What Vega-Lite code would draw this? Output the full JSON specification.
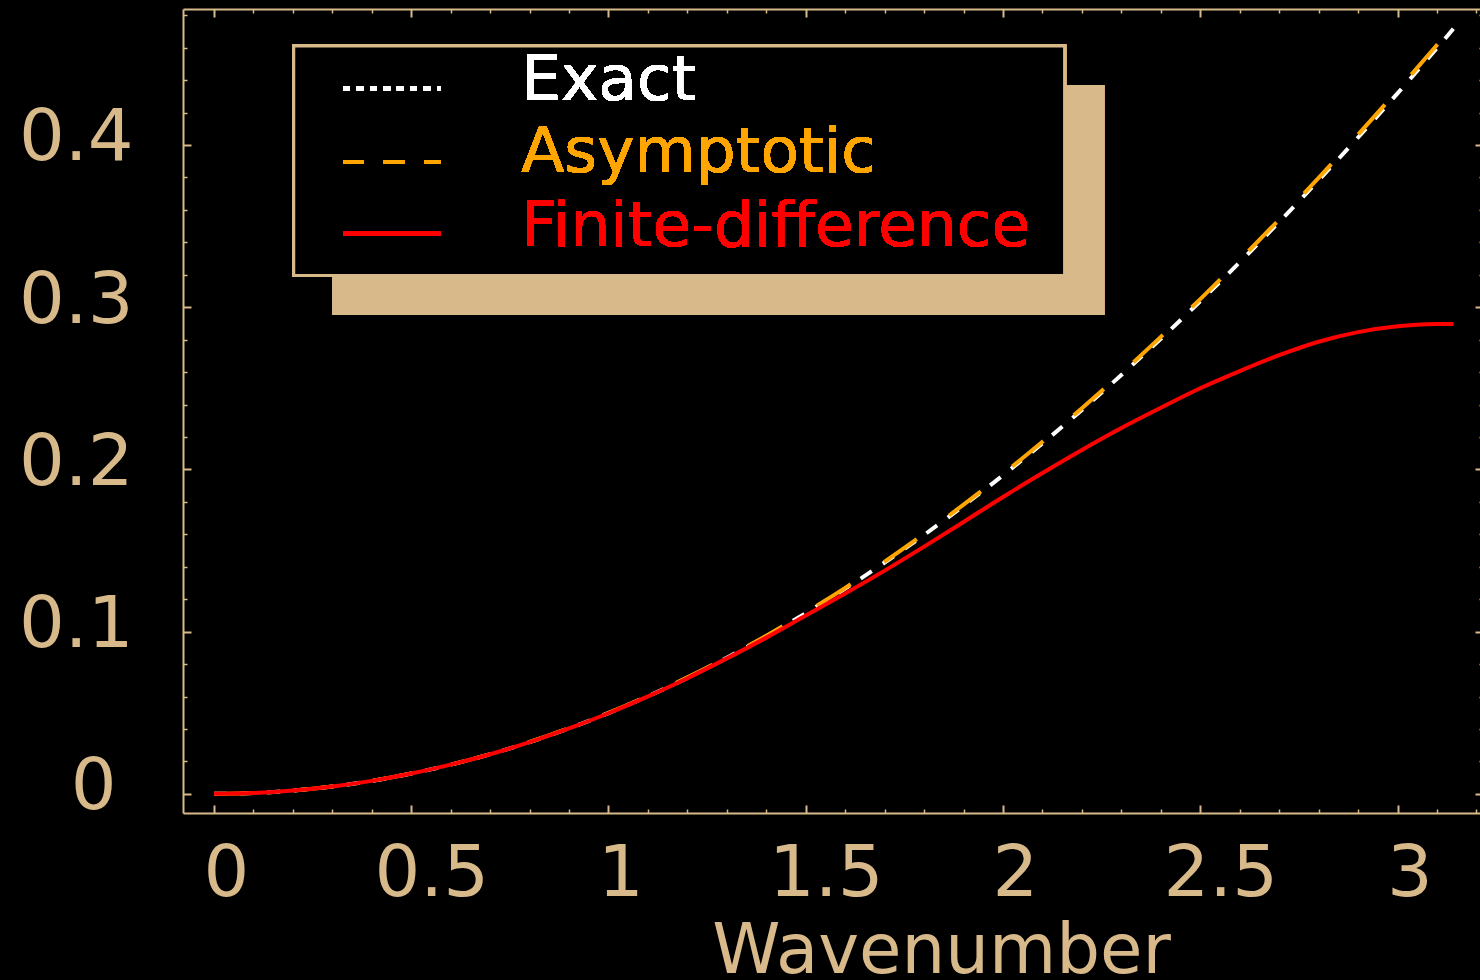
{
  "$schema": "https://vega.github.io/schema/vega-lite/v6.json",
  "autosize": {"type": "none"},
  "padding": {"left": 183, "top": 9, "right": 0, "bottom": 167},
  "width": 1297,
  "height": 804,
  "background": "#000000",
  "config": {
    "view": {"stroke": null},
    "font": "DejaVu Sans"
  },
  "datasets": {
    "dispersion": [
      {"wavenumber": 0, "frequency": 0, "scheme": "Exact"},
      {"wavenumber": 0.1, "frequency": 0.0005, "scheme": "Exact"},
      {"wavenumber": 0.2, "frequency": 0.0020, "scheme": "Exact"},
      {"wavenumber": 0.3, "frequency": 0.0045, "scheme": "Exact"},
      {"wavenumber": 0.4, "frequency": 0.0080, "scheme": "Exact"},
      {"wavenumber": 0.5, "frequency": 0.0125, "scheme": "Exact"},
      {"wavenumber": 0.6, "frequency": 0.0180, "scheme": "Exact"},
      {"wavenumber": 0.7, "frequency": 0.0244, "scheme": "Exact"},
      {"wavenumber": 0.8, "frequency": 0.0319, "scheme": "Exact"},
      {"wavenumber": 0.9, "frequency": 0.0404, "scheme": "Exact"},
      {"wavenumber": 1.0, "frequency": 0.0498, "scheme": "Exact"},
      {"wavenumber": 1.1, "frequency": 0.0602, "scheme": "Exact"},
      {"wavenumber": 1.2, "frequency": 0.0715, "scheme": "Exact"},
      {"wavenumber": 1.3, "frequency": 0.0839, "scheme": "Exact"},
      {"wavenumber": 1.4, "frequency": 0.0971, "scheme": "Exact"},
      {"wavenumber": 1.5, "frequency": 0.1114, "scheme": "Exact"},
      {"wavenumber": 1.6, "frequency": 0.1265, "scheme": "Exact"},
      {"wavenumber": 1.7, "frequency": 0.1426, "scheme": "Exact"},
      {"wavenumber": 1.8, "frequency": 0.1596, "scheme": "Exact"},
      {"wavenumber": 1.9, "frequency": 0.1776, "scheme": "Exact"},
      {"wavenumber": 2.0, "frequency": 0.1964, "scheme": "Exact"},
      {"wavenumber": 2.1, "frequency": 0.2161, "scheme": "Exact"},
      {"wavenumber": 2.2, "frequency": 0.2367, "scheme": "Exact"},
      {"wavenumber": 2.3, "frequency": 0.2582, "scheme": "Exact"},
      {"wavenumber": 2.4, "frequency": 0.2805, "scheme": "Exact"},
      {"wavenumber": 2.5, "frequency": 0.3037, "scheme": "Exact"},
      {"wavenumber": 2.6, "frequency": 0.3277, "scheme": "Exact"},
      {"wavenumber": 2.7, "frequency": 0.3525, "scheme": "Exact"},
      {"wavenumber": 2.8, "frequency": 0.3782, "scheme": "Exact"},
      {"wavenumber": 2.9, "frequency": 0.4046, "scheme": "Exact"},
      {"wavenumber": 3.0, "frequency": 0.4318, "scheme": "Exact"},
      {"wavenumber": 3.1, "frequency": 0.4597, "scheme": "Exact"},
      {"wavenumber": 3.1416, "frequency": 0.4716, "scheme": "Exact"},
      {"wavenumber": 0, "frequency": 0, "scheme": "Asymptotic"},
      {"wavenumber": 0.1, "frequency": 0.0005, "scheme": "Asymptotic"},
      {"wavenumber": 0.2, "frequency": 0.0020, "scheme": "Asymptotic"},
      {"wavenumber": 0.3, "frequency": 0.0045, "scheme": "Asymptotic"},
      {"wavenumber": 0.4, "frequency": 0.0080, "scheme": "Asymptotic"},
      {"wavenumber": 0.5, "frequency": 0.0125, "scheme": "Asymptotic"},
      {"wavenumber": 0.6, "frequency": 0.0180, "scheme": "Asymptotic"},
      {"wavenumber": 0.7, "frequency": 0.0245, "scheme": "Asymptotic"},
      {"wavenumber": 0.8, "frequency": 0.0320, "scheme": "Asymptotic"},
      {"wavenumber": 0.9, "frequency": 0.0405, "scheme": "Asymptotic"},
      {"wavenumber": 1.0, "frequency": 0.0500, "scheme": "Asymptotic"},
      {"wavenumber": 1.1, "frequency": 0.0604, "scheme": "Asymptotic"},
      {"wavenumber": 1.2, "frequency": 0.0718, "scheme": "Asymptotic"},
      {"wavenumber": 1.3, "frequency": 0.0842, "scheme": "Asymptotic"},
      {"wavenumber": 1.4, "frequency": 0.0975, "scheme": "Asymptotic"},
      {"wavenumber": 1.5, "frequency": 0.1118, "scheme": "Asymptotic"},
      {"wavenumber": 1.6, "frequency": 0.1270, "scheme": "Asymptotic"},
      {"wavenumber": 1.7, "frequency": 0.1432, "scheme": "Asymptotic"},
      {"wavenumber": 1.8, "frequency": 0.1603, "scheme": "Asymptotic"},
      {"wavenumber": 1.9, "frequency": 0.1783, "scheme": "Asymptotic"},
      {"wavenumber": 2.0, "frequency": 0.1972, "scheme": "Asymptotic"},
      {"wavenumber": 2.1, "frequency": 0.2170, "scheme": "Asymptotic"},
      {"wavenumber": 2.2, "frequency": 0.2377, "scheme": "Asymptotic"},
      {"wavenumber": 2.3, "frequency": 0.2593, "scheme": "Asymptotic"},
      {"wavenumber": 2.4, "frequency": 0.2817, "scheme": "Asymptotic"},
      {"wavenumber": 2.5, "frequency": 0.3050, "scheme": "Asymptotic"},
      {"wavenumber": 2.6, "frequency": 0.3291, "scheme": "Asymptotic"},
      {"wavenumber": 2.7, "frequency": 0.3540, "scheme": "Asymptotic"},
      {"wavenumber": 2.8, "frequency": 0.3797, "scheme": "Asymptotic"},
      {"wavenumber": 2.9, "frequency": 0.4063, "scheme": "Asymptotic"},
      {"wavenumber": 3.0, "frequency": 0.4336, "scheme": "Asymptotic"},
      {"wavenumber": 3.1, "frequency": 0.4616, "scheme": "Asymptotic"},
      {"wavenumber": 3.1416, "frequency": 0.4735, "scheme": "Asymptotic"},
      {"wavenumber": 0, "frequency": 0, "scheme": "Finite-difference"},
      {"wavenumber": 0.1, "frequency": 0.0005, "scheme": "Finite-difference"},
      {"wavenumber": 0.2, "frequency": 0.0020, "scheme": "Finite-difference"},
      {"wavenumber": 0.3, "frequency": 0.0045, "scheme": "Finite-difference"},
      {"wavenumber": 0.4, "frequency": 0.0080, "scheme": "Finite-difference"},
      {"wavenumber": 0.5, "frequency": 0.0125, "scheme": "Finite-difference"},
      {"wavenumber": 0.6, "frequency": 0.0180, "scheme": "Finite-difference"},
      {"wavenumber": 0.7, "frequency": 0.0244, "scheme": "Finite-difference"},
      {"wavenumber": 0.8, "frequency": 0.0319, "scheme": "Finite-difference"},
      {"wavenumber": 0.9, "frequency": 0.0403, "scheme": "Finite-difference"},
      {"wavenumber": 1.0, "frequency": 0.0497, "scheme": "Finite-difference"},
      {"wavenumber": 1.1, "frequency": 0.0601, "scheme": "Finite-difference"},
      {"wavenumber": 1.2, "frequency": 0.0713, "scheme": "Finite-difference"},
      {"wavenumber": 1.3, "frequency": 0.0835, "scheme": "Finite-difference"},
      {"wavenumber": 1.4, "frequency": 0.0963, "scheme": "Finite-difference"},
      {"wavenumber": 1.5, "frequency": 0.1099, "scheme": "Finite-difference"},
      {"wavenumber": 1.6, "frequency": 0.1235, "scheme": "Finite-difference"},
      {"wavenumber": 1.7, "frequency": 0.1376, "scheme": "Finite-difference"},
      {"wavenumber": 1.8, "frequency": 0.1524, "scheme": "Finite-difference"},
      {"wavenumber": 1.9, "frequency": 0.1676, "scheme": "Finite-difference"},
      {"wavenumber": 2.0, "frequency": 0.1830, "scheme": "Finite-difference"},
      {"wavenumber": 2.1, "frequency": 0.1978, "scheme": "Finite-difference"},
      {"wavenumber": 2.2, "frequency": 0.2120, "scheme": "Finite-difference"},
      {"wavenumber": 2.3, "frequency": 0.2255, "scheme": "Finite-difference"},
      {"wavenumber": 2.4, "frequency": 0.2380, "scheme": "Finite-difference"},
      {"wavenumber": 2.5, "frequency": 0.2500, "scheme": "Finite-difference"},
      {"wavenumber": 2.6, "frequency": 0.2606, "scheme": "Finite-difference"},
      {"wavenumber": 2.7, "frequency": 0.2704, "scheme": "Finite-difference"},
      {"wavenumber": 2.8, "frequency": 0.2787, "scheme": "Finite-difference"},
      {"wavenumber": 2.9, "frequency": 0.2846, "scheme": "Finite-difference"},
      {"wavenumber": 3.0, "frequency": 0.2882, "scheme": "Finite-difference"},
      {"wavenumber": 3.1, "frequency": 0.2896, "scheme": "Finite-difference"},
      {"wavenumber": 3.1416, "frequency": 0.2897, "scheme": "Finite-difference"}
    ]
  },
  "data": {"name": "dispersion"},
  "resolve": {"axis": {"x": "independent", "y": "independent"}},
  "layer": [
    {
      "transform": [{"filter": "datum.scheme === 'Exact'"}],
      "mark": {"type": "line", "color": "#FFFFFF", "strokeWidth": 4, "strokeDash": [13.3, 13.3], "interpolate": "monotone", "clip": true},
      "encoding": {
        "x": {
          "field": "wavenumber", "type": "quantitative",
          "scale": {"domain": [-0.07854, 3.2091], "nice": false, "zero": false},
          "axis": {
            "orient": "bottom",
            "values": [0, 0.1, 0.2, 0.3, 0.4, 0.5, 0.6, 0.7, 0.8, 0.9, 1, 1.1, 1.2, 1.3, 1.4, 1.5, 1.6, 1.7, 1.8, 1.9, 2, 2.1, 2.2, 2.3, 2.4, 2.5, 2.6, 2.7, 2.8, 2.9, 3, 3.1, 3.2],
            "grid": false,
            "domain": true, "domainColor": "#D8B98A", "domainWidth": 2,
            "ticks": true, "tickColor": "#D8B98A",
            "tickSize": {"condition": {"test": "abs(datum.value*2 - round(datum.value*2)) < 1e-6", "value": -8}, "value": -4},
            "tickWidth": {"condition": {"test": "abs(datum.value*2 - round(datum.value*2)) < 1e-6", "value": 2}, "value": 1.5},
            "labelExpr": "abs(datum.value*2 - round(datum.value*2)) < 1e-6 ? format(datum.value, '~g') : ''",
            "labelFont": "DejaVu Sans", "labelFontSize": 72, "labelColor": "#D8B98A",
            "labelBaseline": "alphabetic", "labelAlign": "center",
            "labelPadding": 90,
            "labelOffset": {"condition": {"test": "abs(datum.value - round(datum.value)) > 1e-6", "value": 20}, "value": 12},
            "labelFlush": false, "labelOverlap": false, "labelBound": false,
            "title": "Wavenumber",
            "titleFont": "DejaVu Sans", "titleFontSize": 69, "titleFontWeight": "normal", "titleColor": "#D8B98A",
            "titleAnchor": null, "titleAlign": "center", "titleBaseline": "alphabetic",
            "titleX": 758, "titleY": 159
          }
        },
        "y": {
          "field": "frequency", "type": "quantitative",
          "scale": {"domain": [-0.0118, 0.4838], "nice": false, "zero": false},
          "axis": {
            "orient": "left",
            "values": [0, 0.02, 0.04, 0.06, 0.08, 0.1, 0.12, 0.14, 0.16, 0.18, 0.2, 0.22, 0.24, 0.26, 0.28, 0.3, 0.32, 0.34, 0.36, 0.38, 0.4, 0.42, 0.44, 0.46, 0.48],
            "grid": false,
            "domain": true, "domainColor": "#D8B98A", "domainWidth": 2,
            "ticks": true, "tickColor": "#D8B98A",
            "tickSize": {"condition": {"test": "abs(datum.value*10 - round(datum.value*10)) < 1e-6", "value": -8}, "value": -4},
            "tickWidth": {"condition": {"test": "abs(datum.value*10 - round(datum.value*10)) < 1e-6", "value": 2}, "value": 1.5},
            "labelExpr": "abs(datum.value*10 - round(datum.value*10)) < 1e-6 ? format(datum.value, '~g') : ''",
            "labelFont": "DejaVu Sans", "labelFontSize": 72, "labelColor": "#D8B98A",
            "labelAlign": "right", "labelBaseline": "alphabetic",
            "labelPadding": {"condition": {"test": "datum.value == 0", "value": 75}, "value": 58},
            "labelOffset": 15,
            "labelFlush": false, "labelOverlap": false, "labelBound": false,
            "title": null
          }
        }
      }
    },
    {
      "transform": [{"filter": "datum.scheme === 'Asymptotic'"}],
      "mark": {"type": "line", "color": "#FFA500", "strokeWidth": 4, "strokeDash": [40, 40], "interpolate": "monotone", "clip": true},
      "encoding": {
        "x": {
          "field": "wavenumber", "type": "quantitative",
          "axis": {
            "orient": "top",
            "values": [0, 0.1, 0.2, 0.3, 0.4, 0.5, 0.6, 0.7, 0.8, 0.9, 1, 1.1, 1.2, 1.3, 1.4, 1.5, 1.6, 1.7, 1.8, 1.9, 2, 2.1, 2.2, 2.3, 2.4, 2.5, 2.6, 2.7, 2.8, 2.9, 3, 3.1, 3.2],
            "grid": false,
            "domain": true, "domainColor": "#D8B98A", "domainWidth": 2,
            "ticks": true, "tickColor": "#D8B98A",
            "tickSize": {"condition": {"test": "abs(datum.value*2 - round(datum.value*2)) < 1e-6", "value": -8}, "value": -4},
            "tickWidth": {"condition": {"test": "abs(datum.value*2 - round(datum.value*2)) < 1e-6", "value": 2}, "value": 1.5},
            "labels": false,
            "title": null
          }
        },
        "y": {
          "field": "frequency", "type": "quantitative",
          "axis": {
            "orient": "right",
            "offset": 3,
            "values": [0, 0.02, 0.04, 0.06, 0.08, 0.1, 0.12, 0.14, 0.16, 0.18, 0.2, 0.22, 0.24, 0.26, 0.28, 0.3, 0.32, 0.34, 0.36, 0.38, 0.4, 0.42, 0.44, 0.46, 0.48],
            "grid": false,
            "domain": true, "domainColor": "#D8B98A", "domainWidth": 2,
            "ticks": true, "tickColor": "#D8B98A",
            "tickSize": {"condition": {"test": "abs(datum.value*10 - round(datum.value*10)) < 1e-6", "value": -8}, "value": -4},
            "tickWidth": {"condition": {"test": "abs(datum.value*10 - round(datum.value*10)) < 1e-6", "value": 2}, "value": 1.5},
            "labels": false,
            "title": null
          }
        }
      }
    },
    {
      "transform": [{"filter": "datum.scheme === 'Finite-difference'"}],
      "mark": {"type": "line", "color": "#FF0000", "strokeWidth": 4, "interpolate": "monotone", "clip": true},
      "encoding": {
        "x": {"field": "wavenumber", "type": "quantitative", "axis": null},
        "y": {"field": "frequency", "type": "quantitative", "axis": null}
      }
    },
    {
      "mark": {"type": "rect", "fill": "#D8B98A", "stroke": null},
      "encoding": {
        "x": {"datum": 0.2998, "type": "quantitative", "axis": null},
        "x2": {"datum": 2.2562},
        "y": {"datum": 0.4370, "type": "quantitative", "axis": null},
        "y2": {"datum": 0.2952}
      }
    },
    {
      "mark": {"type": "rect", "fill": "#000000", "stroke": "#D8B98A", "strokeWidth": 3},
      "encoding": {
        "x": {"datum": 0.2022, "type": "quantitative", "axis": null},
        "x2": {"datum": 2.1561},
        "y": {"datum": 0.4610, "type": "quantitative", "axis": null},
        "y2": {"datum": 0.3196}
      }
    },
    {
      "mark": {"type": "rule", "color": "#FFFFFF", "strokeWidth": 4, "strokeDash": [6.7, 6.7]},
      "encoding": {
        "x": {"datum": 0.3277, "type": "quantitative", "axis": null},
        "x2": {"datum": 0.5735},
        "y": {"datum": 0.4350, "type": "quantitative", "axis": null}
      }
    },
    {
      "mark": {"type": "rule", "color": "#FFA500", "strokeWidth": 4, "strokeDash": [20.5, 20]},
      "encoding": {
        "x": {"datum": 0.3277, "type": "quantitative", "axis": null},
        "x2": {"datum": 0.5735},
        "y": {"datum": 0.3895, "type": "quantitative", "axis": null}
      }
    },
    {
      "mark": {"type": "rule", "color": "#FF0000", "strokeWidth": 4},
      "encoding": {
        "x": {"datum": 0.3277, "type": "quantitative", "axis": null},
        "x2": {"datum": 0.5735},
        "y": {"datum": 0.3456, "type": "quantitative", "axis": null}
      }
    },
    {
      "mark": {"type": "text", "text": "Exact", "color": "#FFFFFF", "font": "DejaVu Sans", "fontSize": 63, "align": "left", "baseline": "alphabetic"},
      "encoding": {
        "x": {"datum": 0.7788, "type": "quantitative", "axis": null},
        "y": {"datum": 0.4277, "type": "quantitative", "axis": null}
      }
    },
    {
      "mark": {"type": "text", "text": "Asymptotic", "color": "#FFA500", "font": "DejaVu Sans", "fontSize": 63, "align": "left", "baseline": "alphabetic"},
      "encoding": {
        "x": {"datum": 0.7788, "type": "quantitative", "axis": null},
        "y": {"datum": 0.3834, "type": "quantitative", "axis": null}
      }
    },
    {
      "mark": {"type": "text", "text": "Finite-difference", "color": "#FF0000", "font": "DejaVu Sans", "fontSize": 63, "align": "left", "baseline": "alphabetic"},
      "encoding": {
        "x": {"datum": 0.7788, "type": "quantitative", "axis": null},
        "y": {"datum": 0.3377, "type": "quantitative", "axis": null}
      }
    }
  ]
}
